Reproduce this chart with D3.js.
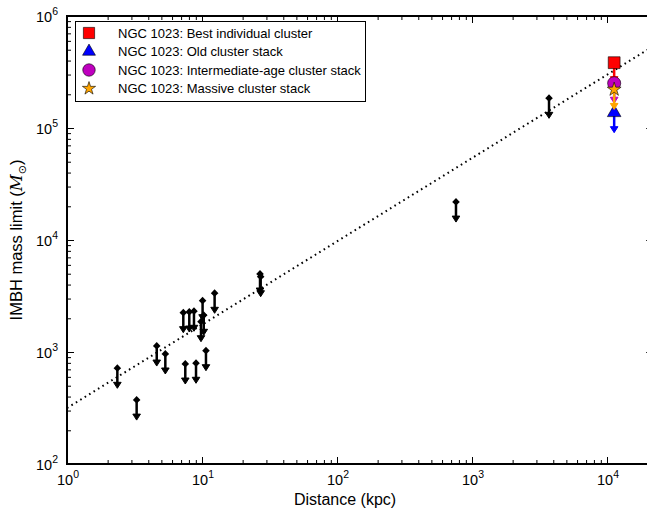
<!DOCTYPE html>
<html>
<head>
<meta charset="utf-8">
<script src="https://cdn.jsdelivr.net/npm/d3@7"></script>
<style>
  body { margin: 0; background: #fff; }
  text { font-family: "Liberation Sans", Arial, sans-serif; fill: #000; }
</style>
</head>
<body>
<div id="chart"></div>
<script>
// upper limits for Milky Way / Local Group clusters (kpc, Msun)
const distance  = [2.36, 3.28, 4.62, 5.35, 7.27, 8.05, 8.72, 10.1, 10.3, 9.83, 12.4, 7.52, 9.03, 10.7, 26.9, 27.2, 761, 3720];
const massLimit = [715, 372, 1130, 960, 2244, 2275, 2309, 2871, 2127, 1864, 3342, 781, 793, 1027, 4970, 4700, 21800, 184000];

// NGC 1023 limits
const ngcLabels = ["NGC 1023: Best individual cluster", "NGC 1023: Old cluster stack",
                   "NGC 1023: Intermediate-age cluster stack", "NGC 1023: Massive cluster stack"];
const ngcDistance = [11300, 11300, 11300, 11300];
const ngcMass = [383000, 137000, 251000, 221000];
const ngcColors = ["#ff0000", "#0000ff", "#bf00bf", "#ffa500"];
const ngcSymbols = [d3.symbolSquare, d3.symbolTriangle, d3.symbolCircle, d3.symbolStar];
const ngcSizes = [140, 80, 135, 60];

// dotted scaling relation, read at the two ends
const lineD = [1, 22000];
const lineM = [316, 537000];

const xTicks = [1, 10, 100, 1000, 10000];
const yTicks = [100, 1000, 10000, 100000, 1000000];

const width = 647, height = 516;
const pLeft = 67, pTop = 16, pBottom = 464;
const xMax = 22000;
const pRight = pLeft + Math.log10(xMax) * 135;

const x = d3.scaleLog().domain([1, xMax]).range([pLeft, pRight]);
const y = d3.scaleLog().domain([100, 1e6]).range([pBottom, pTop]);

const svg = d3.select("#chart").append("svg")
    .attr("width", width)
    .attr("height", height);

// minor tick values
const minor = (lo, hi) => {
    const out = [];
    for (let p = lo; p < hi; p++)
        for (let k = 2; k <= 9; k++) out.push(k * Math.pow(10, p));
    return out;
};
const xMinor = minor(0, 5).filter(v => v < xMax);
const yMinor = minor(2, 6);

const axes = svg.append("g");
function tickAxis(axisFn, scale, vals, size, transform) {
    axes.append("g")
        .attr("transform", transform)
        .call(axisFn(scale).tickValues(vals).tickSize(size).tickFormat(""))
        .call(g => g.select(".domain").remove())
        .call(g => g.selectAll("line").attr("stroke-width", 1));
}
tickAxis(d3.axisBottom, x, xTicks, -7, `translate(0,${pBottom})`);
tickAxis(d3.axisBottom, x, xMinor, -4, `translate(0,${pBottom})`);
tickAxis(d3.axisTop, x, xTicks, -7, `translate(0,${pTop})`);
tickAxis(d3.axisTop, x, xMinor, -4, `translate(0,${pTop})`);
tickAxis(d3.axisLeft, y, yTicks, -7, `translate(${pLeft},0)`);
tickAxis(d3.axisLeft, y, yMinor, -4, `translate(${pLeft},0)`);
tickAxis(d3.axisRight, y, yTicks, -7, `translate(${pRight},0)`);
tickAxis(d3.axisRight, y, yMinor, -4, `translate(${pRight},0)`);

svg.append("rect")
    .attr("x", pLeft).attr("y", pTop)
    .attr("width", pRight - pLeft).attr("height", pBottom - pTop)
    .attr("fill", "none").attr("stroke", "#000").attr("stroke-width", 2);

// tick labels as 10^n
function powerLabel(sel, v) {
    sel.append("tspan").text("10");
    sel.append("tspan").attr("dy", -7).attr("font-size", 10.5).text(Math.round(Math.log10(v)));
}
xTicks.forEach(v => {
    svg.append("text").attr("x", x(v) + 1).attr("y", 485)
        .attr("text-anchor", "middle").attr("font-size", 14.5)
        .call(powerLabel, v);
});
yTicks.forEach(v => {
    svg.append("text").attr("x", 58).attr("y", y(v) + 6)
        .attr("text-anchor", "end").attr("font-size", 14.5)
        .call(powerLabel, v);
});

svg.append("text").attr("x", 345).attr("y", 505)
    .attr("text-anchor", "middle").attr("font-size", 16)
    .text("Distance (kpc)");

const yl = svg.append("text")
    .attr("transform", `translate(22,${(pTop + pBottom) / 2}) rotate(-90)`)
    .attr("text-anchor", "middle").attr("font-size", 16.5);
yl.append("tspan").text("IMBH mass limit (");
yl.append("tspan").attr("font-family", "DejaVu Serif").attr("font-style", "italic").text("M");
yl.append("tspan").attr("font-size", 11).attr("dy", 4).attr("font-family", "DejaVu Sans").text("⊙");
yl.append("tspan").attr("dy", -4).text(")");

// dotted relation
svg.append("path")
    .attr("d", d3.line().x(d => x(d[0])).y(d => y(d[1]))(d3.zip(lineD, lineM)))
    .attr("fill", "none").attr("stroke", "#000")
    .attr("stroke-width", 2).attr("stroke-dasharray", "1.6,3.6");

const arrowLen = 20;
function limitArrow(g, cx, cy, color) {
    g.append("line")
        .attr("x1", cx).attr("x2", cx).attr("y1", cy).attr("y2", cy + arrowLen - 3)
        .attr("stroke", color).attr("stroke-width", 2.5);
    g.append("path")
        .attr("d", `M${cx - 3.8},${cy + arrowLen - 6}L${cx + 3.8},${cy + arrowLen - 6}L${cx},${cy + arrowLen}Z`)
        .attr("fill", color).attr("stroke", color).attr("stroke-width", 1);
}

const pts = svg.append("g");
d3.zip(distance, massLimit).forEach(([d, m]) => {
    const cx = x(d), cy = y(m);
    limitArrow(pts, cx, cy, "#000");
    pts.append("path")
        .attr("d", `M${cx},${cy - 4}L${cx + 3.8},${cy}L${cx},${cy + 3.5}L${cx - 3.8},${cy}Z`)
        .attr("fill", "#000");
});

// NGC 1023
const ngc = svg.append("g");
ngcLabels.forEach((lab, i) => {
    const cx = x(ngcDistance[i]), cy = y(ngcMass[i]);
    limitArrow(ngc, cx, cy, ngcColors[i]);
    ngc.append("path")
        .attr("transform", `translate(${cx},${cy})`)
        .attr("d", d3.symbol(ngcSymbols[i], ngcSizes[i])())
        .attr("fill", ngcColors[i]).attr("stroke", "#000").attr("stroke-width", 0.6);
});

// legend
const leg = svg.append("g");
leg.append("rect")
    .attr("x", 75.5).attr("y", 21.5).attr("width", 290).attr("height", 80)
    .attr("fill", "#fff").attr("stroke", "#000").attr("stroke-width", 1);
ngcLabels.forEach((lab, i) => {
    const ly = 33 + i * 18.5;
    leg.append("path")
        .attr("transform", `translate(89,${ly})`)
        .attr("d", d3.symbol(ngcSymbols[i], ngcSizes[i] * 0.9)())
        .attr("fill", ngcColors[i]).attr("stroke", "#000").attr("stroke-width", 0.6);
    leg.append("text").attr("x", 118).attr("y", ly + 4.5)
        .attr("font-size", 13).text(lab);
});
</script>
</body>
</html>
